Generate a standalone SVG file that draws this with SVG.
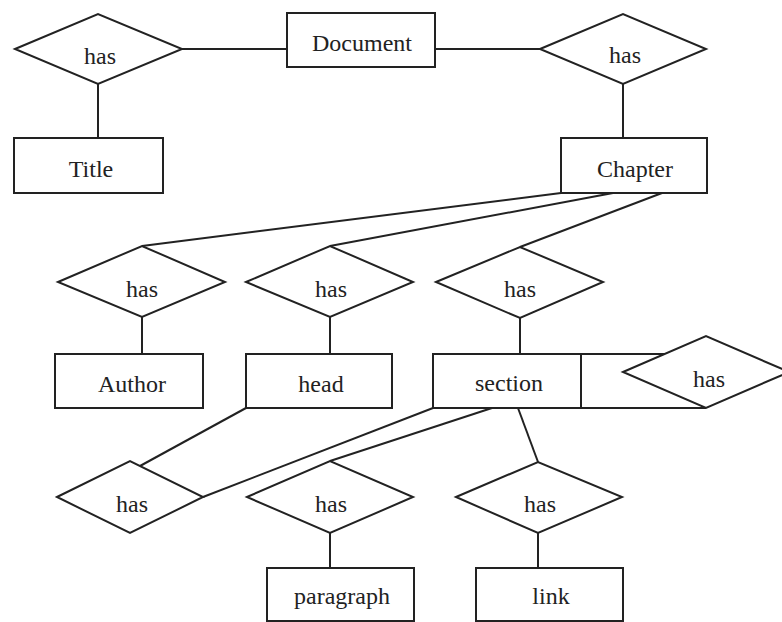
<svg xmlns="http://www.w3.org/2000/svg" width="782" height="622" viewBox="0 0 782 622">
<style>
.shape{fill:#fff;stroke:#222;stroke-width:2}
.line{fill:none;stroke:#222;stroke-width:2}
text{font-family:"Liberation Serif","Times New Roman",serif;font-size:24px;fill:#222;text-anchor:middle}
</style>
<rect width="782" height="622" fill="#fff"/>
<g id="connectors" class="line">
<line x1="182" y1="49" x2="287" y2="49"/>
<line x1="435" y1="49" x2="540" y2="49"/>
<line x1="98" y1="84" x2="98" y2="138"/>
<line x1="623" y1="84" x2="623" y2="138"/>
<line x1="561" y1="193" x2="142" y2="246"/>
<line x1="613" y1="193" x2="330" y2="246"/>
<line x1="662" y1="193" x2="520" y2="247"/>
<line x1="142" y1="317" x2="142" y2="354"/>
<line x1="330" y1="317" x2="330" y2="354"/>
<line x1="520" y1="318" x2="520" y2="354"/>
<line x1="581" y1="354" x2="665" y2="354"/>
<line x1="581" y1="408" x2="706" y2="408"/>
<line x1="246" y1="408" x2="140" y2="466"/>
<line x1="433" y1="408" x2="203" y2="497"/>
<line x1="492" y1="408" x2="330" y2="461"/>
<line x1="518" y1="408" x2="538" y2="462"/>
<line x1="330" y1="533" x2="330" y2="568"/>
<line x1="538" y1="533" x2="538" y2="568"/>
</g>
<g id="document"><rect class="shape" x="287" y="13" width="148" height="54"/><text x="362" y="51">Document</text></g>
<g id="has-title"><polygon class="shape" points="15,49 98,14 182,49 98,84"/><text x="100" y="64">has</text></g>
<g id="has-chapter"><polygon class="shape" points="540,49 623,14 706,49 623,84"/><text x="625" y="63">has</text></g>
<g id="title"><rect class="shape" x="14" y="138" width="149" height="55"/><text x="91" y="177">Title</text></g>
<g id="chapter"><rect class="shape" x="561" y="138" width="146" height="55"/><text x="635" y="177">Chapter</text></g>
<g id="has-author"><polygon class="shape" points="58,282 142,246 225,282 142,317"/><text x="142" y="297">has</text></g>
<g id="has-head"><polygon class="shape" points="246,282 330,246 413,282 330,317"/><text x="331" y="297">has</text></g>
<g id="has-section"><polygon class="shape" points="436,282 520,247 603,282 520,318"/><text x="520" y="297">has</text></g>
<g id="author"><rect class="shape" x="55" y="354" width="148" height="54"/><text x="132" y="392">Author</text></g>
<g id="head"><rect class="shape" x="246" y="354" width="146" height="54"/><text x="321" y="392">head</text></g>
<g id="section"><rect class="shape" x="433" y="354" width="148" height="54"/><text x="509" y="391">section</text></g>
<g id="has-section-self"><polygon class="shape" points="623,372 706,336 789,372 706,408"/><text x="709" y="387">has</text></g>
<g id="has-head-section"><polygon class="shape" points="57,497 130,461 203,497 130,533"/><text x="132" y="512">has</text></g>
<g id="has-paragraph"><polygon class="shape" points="247,497 330,461 413,497 330,533"/><text x="331" y="512">has</text></g>
<g id="has-link"><polygon class="shape" points="456,497 538,462 622,497 538,533"/><text x="540" y="512">has</text></g>
<g id="paragraph"><rect class="shape" x="267" y="568" width="147" height="53"/><text x="342" y="604">paragraph</text></g>
<g id="link"><rect class="shape" x="476" y="568" width="147" height="53"/><text x="551" y="604">link</text></g>
</svg>
